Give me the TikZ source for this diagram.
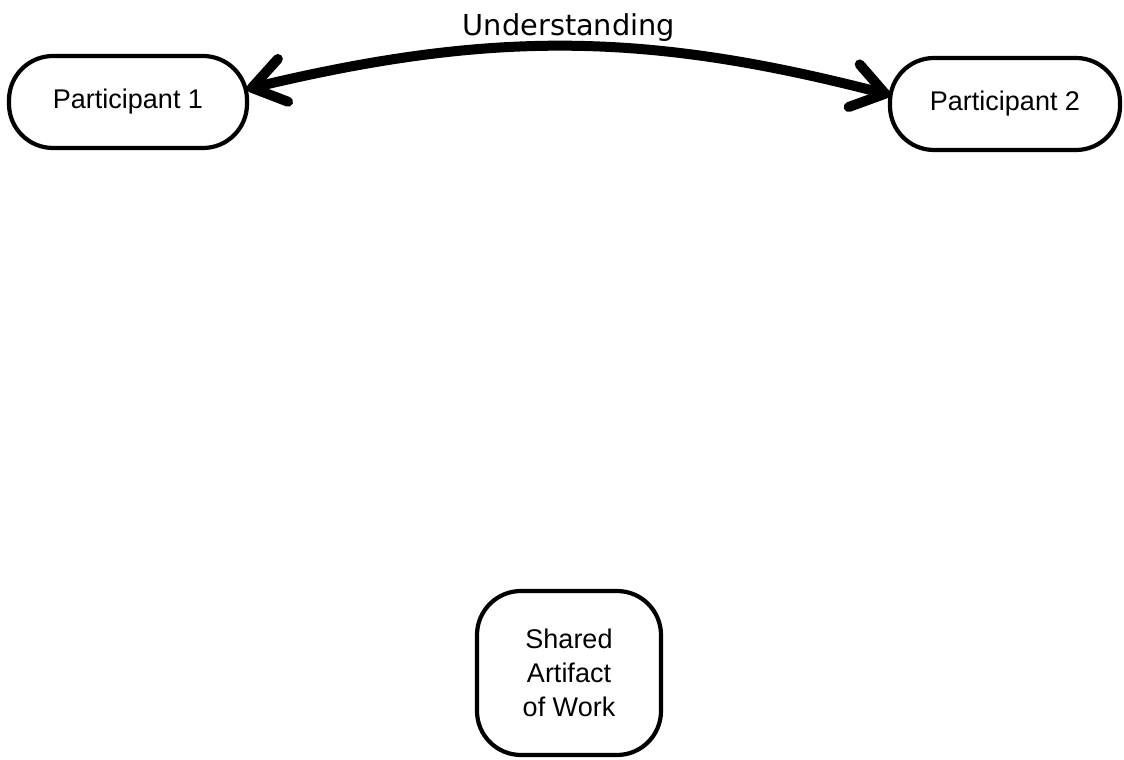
\documentclass[tikz,border=0pt]{standalone}
\usepackage{fontspec}
\setmainfont{Liberation Sans}
\newfontfamily\labelfont{DejaVu Sans}
\usetikzlibrary{arrows.meta}
\tikzset{
  pill/.style={draw, line width=4.2pt, rounded corners=44pt, outer sep=0pt, inner sep=0pt,
    font=\fontsize{27}{34}\selectfont, align=center},
  conn/.style={line width=10pt, line cap=round,
    {Straight Barb[length=32pt,width=44pt,line cap=round,line join=round]}-{Straight Barb[length=32pt,width=44pt,line cap=round,line join=round]}},
  lbl/.style={font=\labelfont\fontsize{28.8}{34}\selectfont}
}
\begin{document}
\begin{tikzpicture}[x=1pt,y=1pt]
\useasboundingbox (0,0) rectangle (1124,760);
\node[pill, minimum width=238pt, minimum height=92pt] (p1) at (128,658) {Participant 1};
\node[pill, minimum width=230pt, minimum height=92pt] (p2) at (1005,656) {Participant 2};
\node[pill, minimum width=184pt, minimum height=164pt] (sa) at (569,87) {Shared\\Artifact\\of Work};
\draw[conn] ([yshift=13pt]p1.east) to[bend left=14]
  node[lbl, midway, anchor=base, yshift=11pt] (u) {Understanding} ([yshift=9pt]p2.west);
\end{tikzpicture}
\end{document}
